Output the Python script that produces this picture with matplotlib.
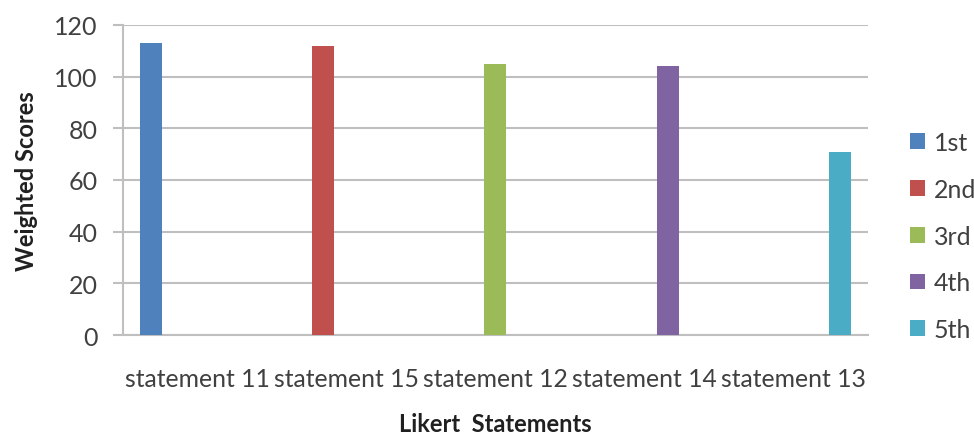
import numpy as np
import matplotlib
matplotlib.use('Agg')
import matplotlib.pyplot as plt
from matplotlib.patches import Patch

# Likert statements ranked by weighted score
statements = ['statement 11', 'statement 15', 'statement 12', 'statement 14', 'statement 13']
ranks = ['1st', '2nd', '3rd', '4th', '5th']
scores = [113, 112, 105, 104, 71]
colors = ['#4F81BD', '#C0504D', '#9BBB59', '#8064A2', '#4BACC6']

plt.rcParams['font.family'] = ['Lato', 'DejaVu Sans']

fig = plt.figure(figsize=(9.74, 4.39), dpi=100)
ax = fig.add_axes([0.1263, 0.2346, 0.7645, 0.7062])

x = np.arange(len(statements))
width = 0.148
step = 0.157
for i, rank in enumerate(ranks):
    # each series only has a value on its own statement (Excel style clustered chart)
    vals = [scores[j] if j == i else 0 for j in range(len(statements))]
    ax.bar(x + (i - 2) * step, vals, width=width, color=colors[i], label=rank, zorder=3)

ax.set_xlim(-0.5, len(statements) - 0.5)
ax.set_ylim(0, 120)
ax.set_yticks(range(0, 121, 20))
ax.set_xticks(x)
ax.set_xticklabels(statements)

grid_col = '#BFBFBF'
ax.yaxis.grid(True, color=grid_col, linewidth=1.5, zorder=0)
for side in ['top', 'right']:
    ax.spines[side].set_visible(False)
for side in ['left', 'bottom']:
    ax.spines[side].set_color(grid_col)
    ax.spines[side].set_linewidth(1.5)
ax.tick_params(axis='y', length=7.2, width=1.5, color=grid_col, labelsize=18,
               labelcolor='#404040', pad=11)
ax.tick_params(axis='x', length=0, labelsize=17.8, labelcolor='#404040', pad=23)

ax.set_ylabel('Weighted Scores', fontsize=17, fontweight='bold', color='#202020', labelpad=12)
ax.set_xlabel('Likert  Statements', fontsize=17, fontweight='bold', color='#202020', labelpad=16)

handles = [Patch(facecolor=c, label=r) for c, r in zip(colors, ranks)]
fig.legend(handles=handles, loc='center left', bbox_to_anchor=(0.911, 0.46),
           frameon=False, fontsize=18, handlelength=0.6, handleheight=0.6,
           handletextpad=0.35, labelspacing=0.95, labelcolor='#404040')

plt.savefig('out.png', dpi=100)
